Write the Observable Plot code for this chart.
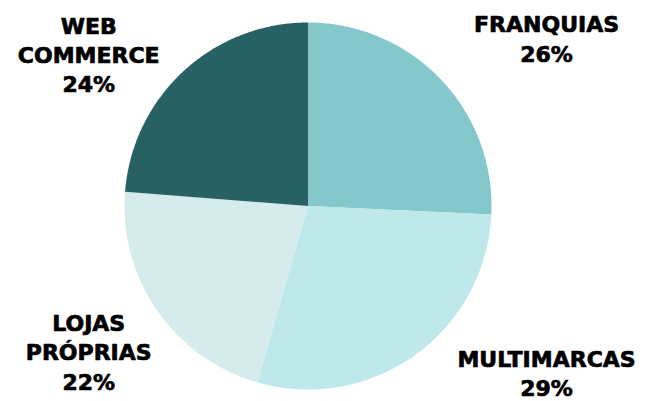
<!DOCTYPE html>
<html>
<head>
<meta charset="utf-8">
<script src="https://cdn.jsdelivr.net/npm/d3@7"></script>
<script src="https://cdn.jsdelivr.net/npm/@observablehq/plot@0.6"></script>
<style>
  html, body { margin: 0; padding: 0; background: #ffffff; }
  #chart svg { display: block; }
</style>
</head>
<body>
<div id="chart"></div>
<script>
// Data
const categories = ["FRANQUIAS", "MULTIMARCAS", "LOJAS\nPRÓPRIAS", "WEB\nCOMMERCE"];
const values = [26, 29, 22, 24];
const colors = ["#85c8cc", "#bee8ea", "#d5ebec", "#286164"];

// Layout (pixels)
const W = 646, H = 401;
const cx = 307.5, cy = 205.5, R = 183.5;

// Pie angles via d3.pie (clockwise from 12 o'clock, data order)
const arcs = d3.pie().sort(null).value(d => d.value)(
  categories.map((c, i) => ({ label: c, value: values[i], color: colors[i] }))
);

// Wedge outlines in unit-radius coordinates (x right, y up)
const wedgePts = [];
arcs.forEach(a => {
  const id = a.data.label;
  wedgePts.push({ id, color: a.data.color, x: 0, y: 0 });
  const n = Math.max(2, Math.ceil((a.endAngle - a.startAngle) / 0.01));
  for (let k = 0; k <= n; k++) {
    const t = a.startAngle + (a.endAngle - a.startAngle) * k / n;
    wedgePts.push({ id, color: a.data.color, x: Math.sin(t), y: Math.cos(t) });
  }
  wedgePts.push({ id, color: a.data.color, x: 0, y: 0 });
});

// Labels placed in the corner of the slice's quadrant
const labels = arcs.map(a => {
  const mid = (a.startAngle + a.endAngle) / 2;
  const right = Math.sin(mid) > 0, up = Math.cos(mid) > 0;
  return {
    text: a.data.label + "\n" + a.data.value + "%",
    x: right ? 1.30 : -1.195,
    y: right ? (up ? 0.918 : -0.905) : (up ? 0.83 : -0.79)
  };
});

const chart = Plot.plot({
  width: W,
  height: H,
  margin: 0,
  x: { domain: [-cx / R, (W - cx) / R], axis: null },
  y: { domain: [-(H - cy) / R, cy / R], axis: null },
  marks: [
    Plot.line(wedgePts, {
      x: "x", y: "y", z: "id",
      fill: "color", stroke: "none", curve: "linear"
    }),
    Plot.text(labels, {
      x: "x", y: "y", text: "text",
      fontSize: 22,
      fontWeight: "bold",
      fontFamily: "DejaVu Sans",
      lineHeight: 1.33,
      lineAnchor: "middle",
      textAnchor: "middle",
      fill: "#000000",
      stroke: "#000000",
      strokeWidth: 0.7
    })
  ]
});
document.getElementById("chart").appendChild(chart);
</script>
</body>
</html>
